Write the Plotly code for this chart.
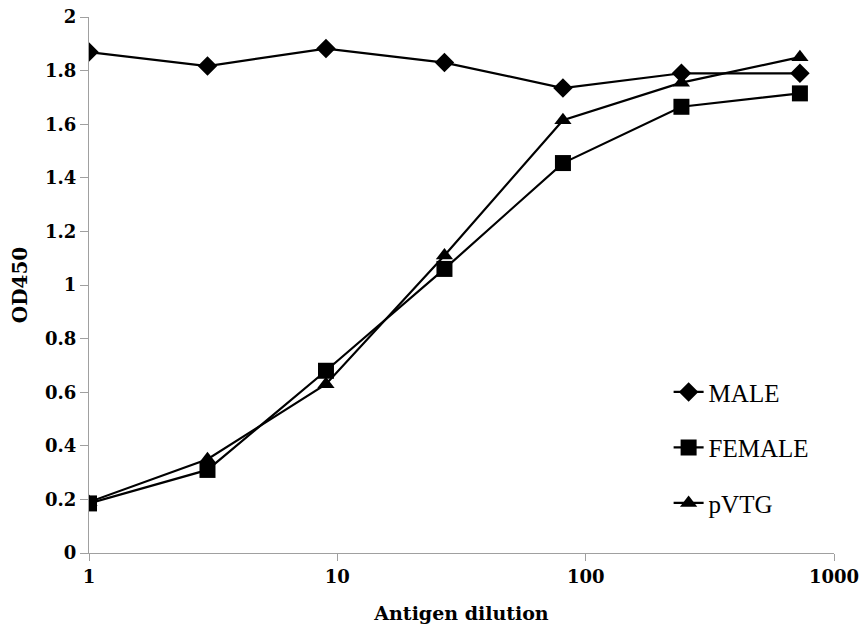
import plotly.graph_objects as go

dilution = [1, 3, 9, 27, 81, 243, 729]
male = [1.869, 1.817, 1.882, 1.83, 1.735, 1.79, 1.79]
female = [0.185, 0.31, 0.68, 1.06, 1.455, 1.665, 1.715]
pvtg = [0.19, 0.35, 0.63, 1.11, 1.615, 1.755, 1.85]
y_ticks = [0, 0.2, 0.4, 0.6, 0.8, 1, 1.2, 1.4, 1.6, 1.8, 2]
y_tick_text = ["0", "0.2", "0.4", "0.6", "0.8", "1", "1.2", "1.4", "1.6", "1.8", "2"]
x_ticks = [1, 10, 100, 1000]
x_tick_text = ["1", "10", "100", "1000"]

fig = go.Figure()
series = [
    ("MALE", male, "diamond", 15),
    ("FEMALE", female, "square", 16),
    ("pVTG", pvtg, "triangle-up", 15),
]
for i, (name, vals, sym, sz) in enumerate(series):
    fig.add_trace(go.Scatter(
        x=dilution, y=vals, name=name, mode="lines+markers",
        line=dict(color="black", width=2.2),
        marker=dict(symbol=sym, size=sz, color="black"),
        legendgroup=str(i),
    ))

serif = "Liberation Serif"
bold_serif = "DejaVu Serif"
fig.update_layout(
    width=861, height=632,
    margin=dict(l=89, r=27, t=17, b=79),
    paper_bgcolor="white", plot_bgcolor="white",
    font=dict(family=serif, color="black"),
    showlegend=True,
    legend=dict(
        x=0.778, y=0.343, xanchor="left", yanchor="top",
        font=dict(family=serif, size=25, color="black"),
        traceorder="grouped", tracegroupgap=20,
        bgcolor="rgba(0,0,0,0)",
    ),
    xaxis=dict(
        type="log", range=[0, 3], automargin=False, ticklabeloverflow="allow",
        tickvals=x_ticks, ticktext=["<b>%s</b>" % t for t in x_tick_text],
        showgrid=False, zeroline=False,
        showline=True, linecolor="#a0a0a0", linewidth=1,
        ticks="outside", ticklen=7, tickcolor="#a0a0a0",
        tickfont=dict(family=bold_serif, size=18, color="black"),
        title=dict(text="<b>Antigen dilution</b>", font=dict(family=bold_serif, size=19), standoff=21),
    ),
    yaxis=dict(
        range=[0, 2], automargin=False, ticklabeloverflow="allow",
        tickvals=y_ticks, ticktext=["<b>%s</b>" % t for t in y_tick_text],
        showgrid=False, zeroline=False,
        showline=True, linecolor="#a0a0a0", linewidth=1,
        ticks="outside", ticklen=8, tickcolor="#a0a0a0",
        tickfont=dict(family=bold_serif, size=18, color="black"),
        title=dict(text="<b>OD450</b>", font=dict(family=bold_serif, size=20), standoff=12),
    ),
)

fig.write_html("out.html", config={"displayModeBar": False},
               post_script="document.body.style.margin='0';")
